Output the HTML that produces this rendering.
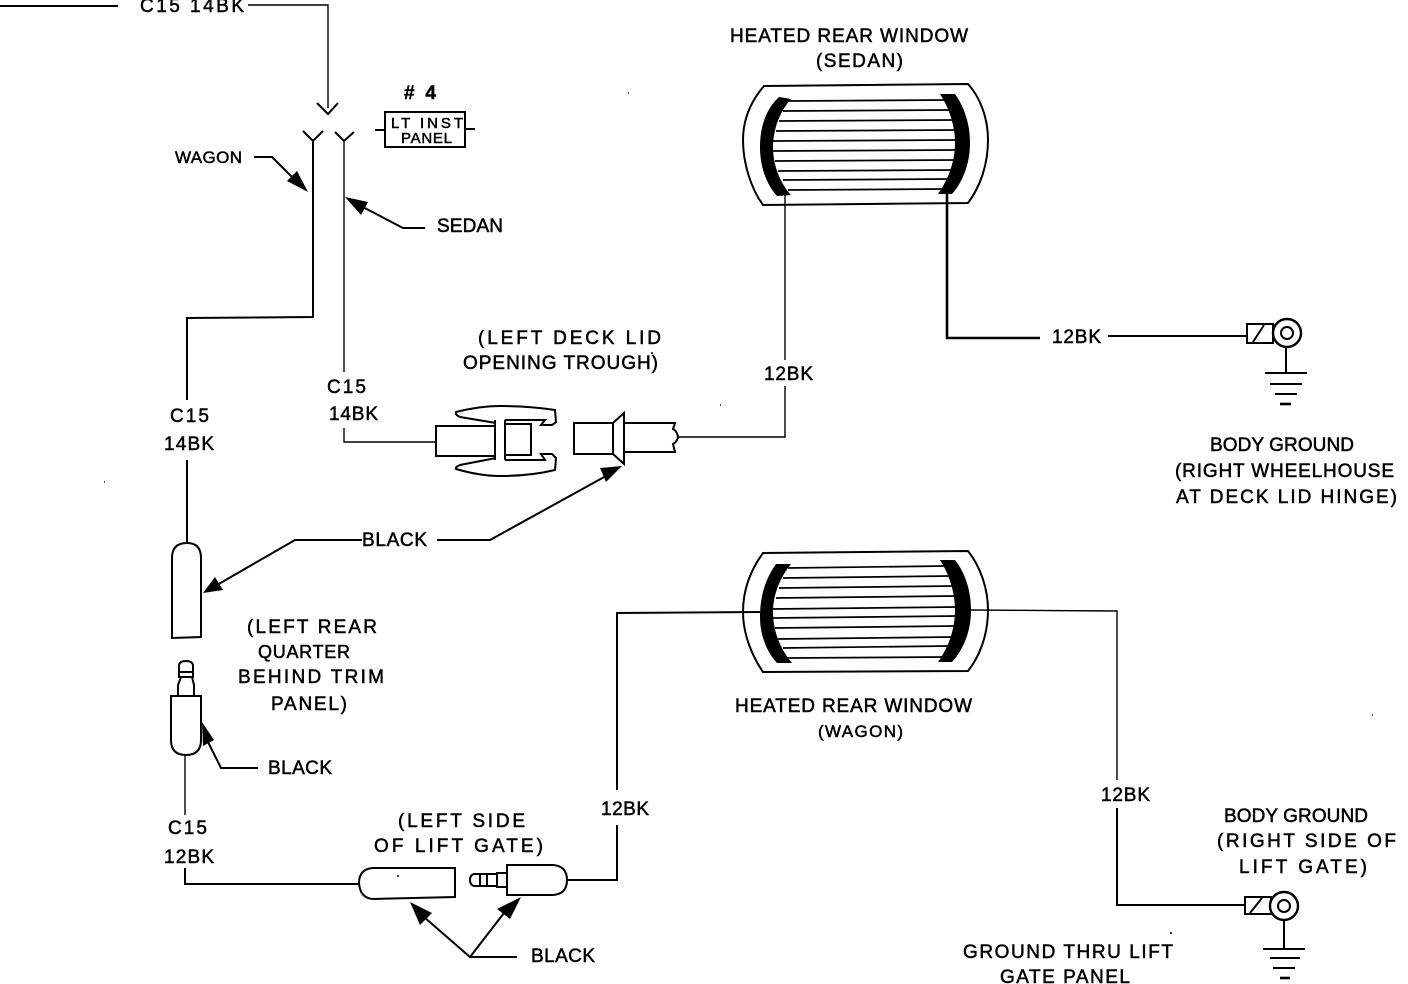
<!DOCTYPE html>
<html><head><meta charset="utf-8"><style>
html,body{margin:0;padding:0;background:#fff;width:1408px;height:984px;overflow:hidden}
svg{display:block}
text{font-family:"Liberation Sans",sans-serif;font-size:19px;fill:#000;stroke:#000;stroke-width:.5}
.l{fill:none;stroke:#000;stroke-width:2}
.t{fill:none;stroke:#000;stroke-width:1.4}
.h{fill:none;stroke:#000;stroke-width:2.6}
</style></head><body>
<svg width="1408" height="984" viewBox="0 0 1408 984" xmlns="http://www.w3.org/2000/svg">
<!-- upper wires -->
<path class="l" d="M0 6H118"/>
<path class="t" d="M248 5H328V108"/>
<path class="l" d="M317 103L328 114L338 103"/>
<path class="l" d="M303 131L313 141L323 131M335 132L344 141L354 132"/>
<path class="l" d="M313 141V317L187 318V400M187 460V543"/>
<path class="t" d="M344 141V372M344 428V442H436"/>
<!-- LT INST box -->
<rect class="l" x="385" y="112" width="80" height="35"/>
<path class="l" d="M375 130H385M465 129H475"/>
<!-- wagon/sedan leaders -->
<path class="l" d="M254 157H272L298 183"/>
<path d="M308 192L287 181L297 171Z"/>
<path class="l" d="M425 228H403L357 204"/>
<path d="M345 197L368 202L361 215Z"/>
<!-- Window 1 -->
<path class="l" d="M764 86L968 84C980 97 988 118 988 140C988 165 980 187 968 203L763 205C752 190 743 165 743 140C743 118 752 100 764 86Z"/>
<path d="M791 99L779 97C767 108 760 125 760 147C760 168 767 185 777 196L791 195C780 183 773 165 773 147C773 128 781 110 791 99Z"/>
<path d="M940 94L955 94C965 108 970 125 970 143C970 163 963 182 952 194L938 194C948 180 955 162 955 143C955 125 949 108 940 94Z"/>
<path class="l" style="stroke-width:1.7" d="M788 101L946 100M783 111L950 110M779 121L953 120M776 131L955 130M773 141L956 140M773 151L956 150M775 161L955 160M778 171L953 170M783 180L949 179M788 190L945 189"/>
<!-- Window 2 -->
<path class="l" d="M763 553L968 551C980 566 988 588 988 610C988 634 980 656 968 671L763 672C752 656 743 634 743 612C743 588 752 568 763 553Z"/>
<path d="M791 564L776 564C766 578 760 595 760 617C760 636 767 652 777 663L792 663C781 650 773 632 773 612C773 594 781 576 791 564Z"/>
<path d="M940 560L955 560C966 574 971 592 971 610C971 632 963 650 952 662L938 662C948 648 955 630 955 610C955 592 949 574 940 560Z"/>
<path class="l" style="stroke-width:1.7" d="M788 568L946 566M783 578L950 576M779 588L953 586M776 598L955 596M773 609L956 607M773 618L956 616M775 628L955 626M778 639L953 637M783 648L949 646M788 658L945 657"/>
<!-- window wires -->
<path class="t" d="M785 195V360M785 386V437H677"/>
<path class="h" d="M947 194V338H1040"/>
<path class="l" d="M1108 336H1247"/>
<path class="l" d="M760 612L617 613V790M617 825V880H566"/>
<path class="t" d="M970 610L1117 611V780"/>
<path class="l" d="M1117 808V905H1245"/>
<!-- ground 1 -->
<rect class="l" x="1247" y="324" width="26" height="19"/>
<path class="l" d="M1253 342L1264 325"/>
<circle cx="1287" cy="333" r="14" fill="#fff" stroke="#000" stroke-width="2.4"/>
<circle cx="1287" cy="333" r="6" fill="#fff" stroke="#000" stroke-width="2"/>
<path class="l" d="M1286 347V373M1265 373H1307M1270 384H1302M1275 394H1297"/>
<path class="h" d="M1280 404H1291"/>
<!-- ground 2 -->
<rect class="l" x="1245" y="897" width="26" height="17"/>
<path class="l" d="M1250 913L1262 898"/>
<circle cx="1284" cy="906" r="14" fill="#fff" stroke="#000" stroke-width="2.4"/>
<circle cx="1284" cy="906" r="6" fill="#fff" stroke="#000" stroke-width="2"/>
<path class="l" d="M1284 920V949M1263 949H1305M1270 958H1300M1273 968H1295"/>
<path class="h" d="M1280 978H1290"/>
<!-- Center connector left -->
<path class="l" d="M495 426H436V456H495"/>
<path class="l" d="M495 420V460M505 420V460"/>
<path class="l" d="M505 424H531V455H505"/>
<path class="l" d="M496 423L460 417Q455 415 456 412Q480 406 500 406Q530 406 555 410L556 422L552 425H541L545 420H505"/>
<path class="l" d="M496 458L460 465Q455 467 456 469Q480 476 500 476Q530 476 555 470L556 458L552 454H541L545 460H505"/>
<!-- Center connector right -->
<path class="l" d="M613 423H574V454H613"/>
<path class="l" d="M613 423L624 413V464L613 454ZM624 423H675L673 429Q677 431 678 437Q677 442 673 444L675 452H624"/>
<path d="M622 466L600 468L606 482Z"/>
<path class="l" d="M437 540H490L606 476"/>
<path class="l" d="M362 540H295L217 585"/>
<path d="M203 593L215 577L223 590Z"/>
<!-- plug upper -->
<path class="l" d="M172 638V558Q172 543 187 543Q201 543 201 558V637Z"/>
<!-- plug lower -->
<path class="l" d="M171 696H201V740Q201 755 186 755Q171 755 171 740Z"/>
<path class="l" d="M179 677V666Q179 661 186 661Q193 661 193 666V677ZM179 672H193M178 696V685L181 677M194 696V685L192 677"/>
<path class="t" d="M185 755V815"/>
<path d="M202 722L214 740L203 746Z"/>
<path class="l" d="M208 742L221 768H258"/>
<!-- lower plugs -->
<path class="l" d="M185 868V884H359"/>
<path class="l" d="M455 868L373 868Q359 869 359 883Q360 898 373 899L455 897Z"/>
<path class="l" d="M507 865H553Q567 866 567 880Q567 894 553 895H507Z"/>
<path class="l" d="M507 873H497V887H507M497 874H487V886H497M487 874H474Q470 875 470 880Q470 885 474 886H487M480 874V886"/>
<path d="M410 902L432 913L420 925Z"/>
<path d="M521 897L510 919L497 909Z"/>
<path class="l" d="M424 917L470 957L504 913M470 957H517"/>
<!-- specks -->
<path class="t" d="M104 482h1M720 405h1M1372 715h1M397 876h2M652 352v2M1170 933h2M628 93h1"/>
<!-- Labels -->
<text x="140" y="12" textLength="104">C15 14BK</text>
<text x="730" y="42" textLength="238">HEATED REAR WINDOW</text>
<text x="816" y="67" textLength="87">(SEDAN)</text>
<text x="404" y="99" textLength="32" style="font-weight:bold">#  4</text>
<text x="391" y="128" textLength="72" style="font-size:15px">LT INST</text>
<text x="401" y="143" textLength="51" style="font-size:15px">PANEL</text>
<text x="175" y="163" textLength="67" style="font-size:17px">WAGON</text>
<text x="437" y="232" textLength="66">SEDAN</text>
<text x="478" y="344" textLength="183">(LEFT DECK LID</text>
<text x="463" y="369" textLength="195">OPENING TROUGH)</text>
<text x="327" y="393" textLength="39">C15</text>
<text x="329" y="420" textLength="49">14BK</text>
<text x="170" y="422" textLength="39">C15</text>
<text x="164" y="450" textLength="50">14BK</text>
<text x="764" y="380" textLength="49">12BK</text>
<text x="1052" y="343" textLength="49">12BK</text>
<text x="1210" y="451" textLength="144">BODY GROUND</text>
<text x="1175" y="477" textLength="219">(RIGHT WHEELHOUSE</text>
<text x="1176" y="503" textLength="221">AT DECK LID HINGE)</text>
<text x="362" y="546" textLength="65">BLACK</text>
<text x="247" y="633" textLength="130">(LEFT REAR</text>
<text x="258" y="658" textLength="92" style="font-size:18px">QUARTER</text>
<text x="238" y="683" textLength="146">BEHIND TRIM</text>
<text x="271" y="710" textLength="76">PANEL)</text>
<text x="268" y="774" textLength="64">BLACK</text>
<text x="735" y="712" textLength="237">HEATED REAR WINDOW</text>
<text x="818" y="737" textLength="85" style="font-size:17px">(WAGON)</text>
<text x="168" y="834" textLength="39">C15</text>
<text x="164" y="863" textLength="50">12BK</text>
<text x="398" y="827" textLength="127">(LEFT SIDE</text>
<text x="374" y="852" textLength="169">OF LIFT GATE)</text>
<text x="601" y="815" textLength="48">12BK</text>
<text x="1101" y="801" textLength="49">12BK</text>
<text x="1224" y="822" textLength="144">BODY GROUND</text>
<text x="1217" y="847" textLength="179">(RIGHT SIDE OF</text>
<text x="1239" y="873" textLength="128">LIFT GATE)</text>
<text x="963" y="958" textLength="210">GROUND THRU LIFT</text>
<text x="1000" y="983" textLength="130">GATE PANEL</text>
<text x="531" y="962" textLength="64">BLACK</text>
</svg>
</body></html>
